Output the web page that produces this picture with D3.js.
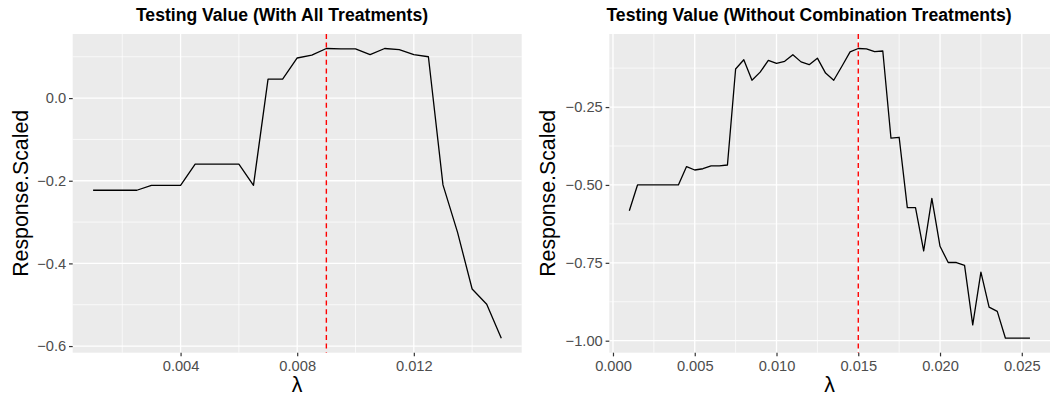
<!DOCTYPE html>
<html>
<head>
<meta charset="utf-8">
<script src="https://cdn.jsdelivr.net/npm/d3@7"></script>
<style>
  body { margin: 0; background: #ffffff; }
  text { font-family: "Liberation Sans", Arial, Helvetica, sans-serif; }
</style>
</head>
<body>
<div id="chart"></div>
<script>
// left panel: all treatments
var lambdaAll = [0.001, 0.0015, 0.002, 0.0025, 0.003, 0.0035, 0.004, 0.0045, 0.005, 0.0055,
  0.006, 0.0065, 0.007, 0.0075, 0.008, 0.0085, 0.009, 0.0095, 0.010, 0.0105,
  0.011, 0.0115, 0.012, 0.0125, 0.013, 0.0135, 0.014, 0.0145, 0.015];
var responseAll = [-0.223, -0.223, -0.223, -0.223, -0.211, -0.211, -0.211, -0.160, -0.160, -0.160,
  -0.160, -0.211, 0.046, 0.046, 0.097, 0.104, 0.120, 0.119, 0.119, 0.105,
  0.120, 0.117, 0.105, 0.100, -0.210, -0.325, -0.462, -0.499, -0.581];
var bestLambdaAll = 0.009;

// right panel: without combination treatments
var lambdaNoCombo = [0.001, 0.0015, 0.002, 0.0025, 0.003, 0.0035, 0.004, 0.0045, 0.005, 0.0055,
  0.006, 0.0065, 0.007, 0.0075, 0.008, 0.0085, 0.009, 0.0095, 0.010, 0.0105,
  0.011, 0.0115, 0.012, 0.0125, 0.013, 0.0135, 0.014, 0.0145, 0.015, 0.0155,
  0.016, 0.0165, 0.017, 0.0175, 0.018, 0.0185, 0.019, 0.0195, 0.020, 0.0205,
  0.021, 0.0215, 0.022, 0.0225, 0.023, 0.0235, 0.024, 0.0245, 0.025, 0.0255];
var responseNoCombo = [-0.583, -0.500, -0.500, -0.500, -0.500, -0.500, -0.500, -0.441, -0.452, -0.448,
  -0.439, -0.439, -0.436, -0.128, -0.098, -0.164, -0.138, -0.100, -0.110, -0.103,
  -0.082, -0.105, -0.114, -0.093, -0.141, -0.164, -0.119, -0.073, -0.062, -0.063,
  -0.072, -0.070, -0.350, -0.347, -0.573, -0.573, -0.712, -0.543, -0.697, -0.749,
  -0.749, -0.758, -0.949, -0.780, -0.892, -0.906, -0.992, -0.992, -0.992, -0.992];
var bestLambdaNoCombo = 0.015;

// tick values
var xTicksAll = [0.004, 0.008, 0.012];
var xMinorAll = [0.002, 0.006, 0.010, 0.014];
var yTicksAll = [0.0, -0.2, -0.4, -0.6];
var yMinorAll = [0.1, -0.1, -0.3, -0.5];
var xTicksNoCombo = [0.000, 0.005, 0.010, 0.015, 0.020, 0.025];
var xMinorNoCombo = [0.0025, 0.0075, 0.0125, 0.0175, 0.0225];
var yTicksNoCombo = [-0.25, -0.50, -0.75, -1.00];
var yMinorNoCombo = [-0.125, -0.375, -0.625, -0.875];

var titles = ["Testing Value (With All Treatments)", "Testing Value (Without Combination Treatments)"];
var xTitle = "\u03bb";
var yTitle = "Response.Scaled";

var width = 1058;
var height = 400;
var panelTop = 34;
var panelBottom = 352.7;
var tickLength = 3.67;
var labelFontSize = 14.67;

var svg = d3.select("#chart").append("svg")
    .attr("width", width)
    .attr("height", height);

svg.append("rect")
    .attr("width", width)
    .attr("height", height)
    .attr("fill", "#ffffff");

// ggplot style 5% expansion of the data range
var expand = function(ext) {
    var pad = (ext[1] - ext[0]) * 0.05;
    return [ext[0] - pad, ext[1] + pad];
};

var drawPanel = function(opts) {
    var x = d3.scaleLinear()
        .domain(expand(d3.extent(opts.xs)))
        .range([opts.left, opts.right]);
    var y = d3.scaleLinear()
        .domain(expand(d3.extent(opts.ys)))
        .range([panelBottom, panelTop]);

    var g = svg.append("g");

    g.append("rect")
        .attr("x", opts.left)
        .attr("y", panelTop)
        .attr("width", opts.right - opts.left)
        .attr("height", panelBottom - panelTop)
        .attr("fill", "#ebebeb");

    // minor grid
    g.selectAll(".xminor")
        .data(opts.xMinor)
        .enter().append("line")
        .attr("x1", function(d) { return x(d); })
        .attr("x2", function(d) { return x(d); })
        .attr("y1", panelTop)
        .attr("y2", panelBottom)
        .attr("stroke", "#ffffff")
        .attr("stroke-width", 0.7);

    g.selectAll(".yminor")
        .data(opts.yMinor)
        .enter().append("line")
        .attr("x1", opts.left)
        .attr("x2", opts.right)
        .attr("y1", function(d) { return y(d); })
        .attr("y2", function(d) { return y(d); })
        .attr("stroke", "#ffffff")
        .attr("stroke-width", 0.7);

    // major grid
    g.selectAll(".xmajor")
        .data(opts.xTicks)
        .enter().append("line")
        .attr("x1", function(d) { return x(d); })
        .attr("x2", function(d) { return x(d); })
        .attr("y1", panelTop)
        .attr("y2", panelBottom)
        .attr("stroke", "#ffffff")
        .attr("stroke-width", 1.3);

    g.selectAll(".ymajor")
        .data(opts.yTicks)
        .enter().append("line")
        .attr("x1", opts.left)
        .attr("x2", opts.right)
        .attr("y1", function(d) { return y(d); })
        .attr("y2", function(d) { return y(d); })
        .attr("stroke", "#ffffff")
        .attr("stroke-width", 1.3);

    var xAxis = d3.axisBottom(x)
        .tickValues(opts.xTicks)
        .tickFormat(d3.format(".3f"))
        .tickSize(tickLength)
        .tickPadding(4.5);
    var yAxis = d3.axisLeft(y)
        .tickValues(opts.yTicks)
        .tickFormat(d3.format(opts.yFormat))
        .tickSize(tickLength)
        .tickPadding(2.93);

    var xa = g.append("g")
        .attr("transform", "translate(0," + panelBottom + ")")
        .call(xAxis);
    var ya = g.append("g")
        .attr("transform", "translate(" + opts.left + ",0)")
        .call(yAxis);

    [xa, ya].forEach(function(a) {
        a.select(".domain").remove();
        a.selectAll(".tick line").attr("stroke", "#333333").attr("stroke-width", 1.2);
        a.selectAll(".tick text")
            .attr("fill", "#4d4d4d")
            .style("font-size", labelFontSize + "px")
            .style("font-family", "'Liberation Sans', Arial, sans-serif");
    });

    var line = d3.line()
        .x(function(d, i) { return x(opts.xs[i]); })
        .y(function(d) { return y(d); });

    g.append("path")
        .datum(opts.ys)
        .attr("d", line)
        .attr("fill", "none")
        .attr("stroke", "#000000")
        .attr("stroke-width", 1.3)
        .attr("stroke-linejoin", "round");

    g.append("line")
        .attr("x1", x(opts.best))
        .attr("x2", x(opts.best))
        .attr("y1", panelTop)
        .attr("y2", panelBottom)
        .attr("stroke", "#ff0000")
        .attr("stroke-width", 1.4)
        .attr("stroke-dasharray", "5,3.6");

    g.append("text")
        .attr("x", opts.titleX)
        .attr("y", 20.9)
        .attr("text-anchor", "middle")
        .style("font-size", "17.6px")
        .style("font-weight", "bold")
        .text(opts.title);

    g.append("text")
        .attr("x", (opts.left + opts.right) / 2)
        .attr("y", 392)
        .attr("text-anchor", "middle")
        .style("font-size", "21.3px")
        .text(xTitle);

    g.append("text")
        .attr("transform", "translate(" + opts.yTitleX + "," + ((panelTop + panelBottom) / 2) + ") rotate(-90)")
        .attr("text-anchor", "middle")
        .style("font-size", "21.3px")
        .text(yTitle);
};

drawPanel({
    xs: lambdaAll, ys: responseAll, best: bestLambdaAll,
    xTicks: xTicksAll, xMinor: xMinorAll, yTicks: yTicksAll, yMinor: yMinorAll,
    yFormat: ".1f", left: 72.7, right: 521.7,
    title: titles[0], titleX: 282, yTitleX: 28.4
});

drawPanel({
    xs: lambdaNoCombo, ys: responseNoCombo, best: bestLambdaNoCombo,
    xTicks: xTicksNoCombo, xMinor: xMinorNoCombo, yTicks: yTicksNoCombo, yMinor: yMinorNoCombo,
    yFormat: ".2f", left: 609.3, right: 1050,
    title: titles[1], titleX: 809, yTitleX: 555
});
</script>
</body>
</html>
